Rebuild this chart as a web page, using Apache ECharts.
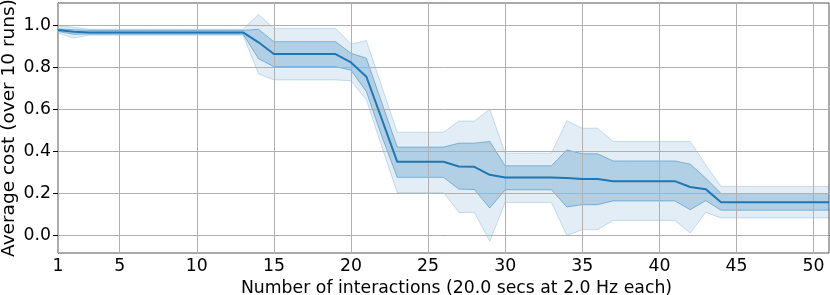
<!DOCTYPE html>
<html>
<head>
<meta charset="utf-8">
<script src="https://cdn.jsdelivr.net/npm/echarts@6/dist/echarts.min.js"></script>
<style>
html,body{margin:0;padding:0;background:#fff;}
#chart{width:830px;height:295px;}
</style>
</head>
<body>
<div id="chart"></div>
<script>
// x: number of interactions 1..51
const interactions = [1,2,3,4,5,6,7,8,9,10,11,12,13,14,15,16,17,18,19,20,21,22,23,24,25,26,27,28,29,30,31,32,33,34,35,36,37,38,39,40,41,42,43,44,45,46,47,48,49,50,51];
const meanCost = [0.976,0.968,0.965,0.965,0.965,0.965,0.965,0.965,0.965,0.965,0.965,0.965,0.965,0.918,0.862,0.862,0.862,0.862,0.862,0.822,0.754,0.552,0.349,0.349,0.349,0.349,0.327,0.325,0.287,0.274,0.274,0.274,0.274,0.272,0.267,0.267,0.257,0.257,0.257,0.257,0.257,0.229,0.219,0.157,0.157,0.157,0.157,0.157,0.157,0.157,0.157];
const innerHigh = [0.982,0.978,0.975,0.975,0.975,0.975,0.975,0.975,0.975,0.975,0.975,0.975,0.975,0.980,0.921,0.921,0.921,0.921,0.921,0.866,0.842,0.630,0.419,0.419,0.419,0.419,0.438,0.438,0.446,0.330,0.330,0.330,0.330,0.406,0.387,0.387,0.353,0.353,0.353,0.353,0.353,0.338,0.272,0.198,0.198,0.198,0.198,0.198,0.198,0.198,0.198];
const innerLow = [0.970,0.956,0.957,0.957,0.957,0.957,0.957,0.957,0.957,0.957,0.957,0.957,0.957,0.840,0.802,0.802,0.802,0.802,0.802,0.785,0.683,0.470,0.275,0.275,0.275,0.275,0.219,0.217,0.129,0.216,0.216,0.216,0.216,0.134,0.145,0.145,0.163,0.163,0.163,0.163,0.163,0.121,0.164,0.119,0.119,0.119,0.119,0.119,0.119,0.119,0.119];
const outerHigh = [0.995,0.990,0.980,0.980,0.980,0.980,0.980,0.980,0.980,0.980,0.980,0.980,0.980,1.051,0.984,0.984,0.984,0.984,0.984,0.909,0.926,0.707,0.490,0.490,0.490,0.490,0.543,0.543,0.600,0.390,0.390,0.390,0.390,0.545,0.509,0.509,0.446,0.446,0.446,0.446,0.446,0.446,0.335,0.232,0.232,0.232,0.232,0.232,0.232,0.232,0.232];
const outerLow = [0.962,0.938,0.952,0.952,0.952,0.952,0.952,0.952,0.952,0.952,0.952,0.952,0.952,0.768,0.739,0.739,0.739,0.739,0.739,0.735,0.644,0.420,0.203,0.203,0.203,0.203,0.108,0.108,-0.029,0.155,0.155,0.155,0.155,-0.002,0.026,0.026,0.070,0.070,0.070,0.070,0.070,0.010,0.108,0.082,0.082,0.082,0.082,0.082,0.082,0.082,0.082];
const xTicks = [1,5,10,15,20,25,30,35,40,45,50];
const yTicks = [0,0.2,0.4,0.6,0.8,1.0];

const FONT = 'DejaVu Sans';
const blue = '#1f77b4';

function bandSeries(lo, hi, fill, edge, z) {
  return {
    type: 'custom', silent: true, z: z,
    data: interactions.map((x, i) => [x, lo[i], hi[i]]),
    encode: { x: 0, y: [1, 2] },
    renderItem: function (params, api) {
      if (params.dataIndex !== 0) return null;
      const top = interactions.map((x, i) => api.coord([x, hi[i]]));
      const bot = interactions.map((x, i) => api.coord([x, lo[i]]));
      const poly = top.concat(bot.slice().reverse());
      return {
        type: 'group',
        children: [
          { type: 'polygon', shape: { points: poly }, style: { fill: fill, stroke: null } },
          { type: 'polyline', shape: { points: top }, style: { fill: null, stroke: edge, lineWidth: 1 } },
          { type: 'polyline', shape: { points: bot }, style: { fill: null, stroke: edge, lineWidth: 1 } }
        ]
      };
    }
  };
}

const gridLineStyle = { color: '#b0b0b0', width: 1, type: 'solid' };

const chart = echarts.init(document.getElementById('chart'));
chart.setOption({
  animation: false,
  grid: {
    left: 58, right: 1, top: 3, bottom: 42,
    containLabel: false, outerBoundsMode: 'none',
    show: true, borderColor: '#555', borderWidth: 1, backgroundColor: 'transparent'
  },
  xAxis: {
    type: 'value', min: 1, max: 51,
    name: 'Number of interactions (20.0 secs at 2.0 Hz each)',
    nameLocation: 'middle', nameGap: 27, nameMoveOverlap: false,
    nameTextStyle: { fontFamily: FONT, fontSize: 17.3, color: '#000', padding: [0, 0, 0, 26] },
    axisLine: { show: true, lineStyle: { color: '#000', width: 1 } },
    axisTick: { show: true, length: 5, lineStyle: { color: '#000' }, customValues: xTicks },
    axisLabel: { fontFamily: FONT, fontSize: 17.3, color: '#000', margin: 5, customValues: xTicks },
    splitLine: { show: false }
  },
  yAxis: {
    type: 'value', min: -0.085, max: 1.105,
    name: 'Average cost (over 10 runs)',
    nameLocation: 'middle', nameGap: 39, nameMoveOverlap: false,
    nameTextStyle: { fontFamily: FONT, fontSize: 18.5, color: '#000' },
    axisLine: { show: true, lineStyle: { color: '#555', width: 1 } },
    axisTick: { show: true, length: 5, lineStyle: { color: '#000' }, customValues: yTicks },
    axisLabel: { fontFamily: FONT, fontSize: 17.3, color: '#000', margin: 7, customValues: yTicks,
      formatter: v => v.toFixed(1) },
    splitLine: { show: false }
  },
  series: [
    {
      type: 'line', data: [], silent: true, z: 1,
      markLine: {
        silent: true, symbol: ['none', 'none'], animation: false,
        label: { show: false },
        lineStyle: gridLineStyle,
        emphasis: { disabled: true },
        data: xTicks.map(v => ({ xAxis: v })).concat(yTicks.map(v => ({ yAxis: v })))
      }
    },
    bandSeries(outerLow, outerHigh, 'rgba(31,119,180,0.13)', 'rgba(31,119,180,0.22)', 2),
    bandSeries(innerLow, innerHigh, 'rgba(31,119,180,0.25)', 'rgba(31,119,180,0.45)', 3),
    {
      type: 'line', data: interactions.map((x, i) => [x, meanCost[i]]), symbol: 'none', silent: true,
      lineStyle: { color: blue, width: 2 }, z: 5
    }
  ]
});
</script>
</body>
</html>
